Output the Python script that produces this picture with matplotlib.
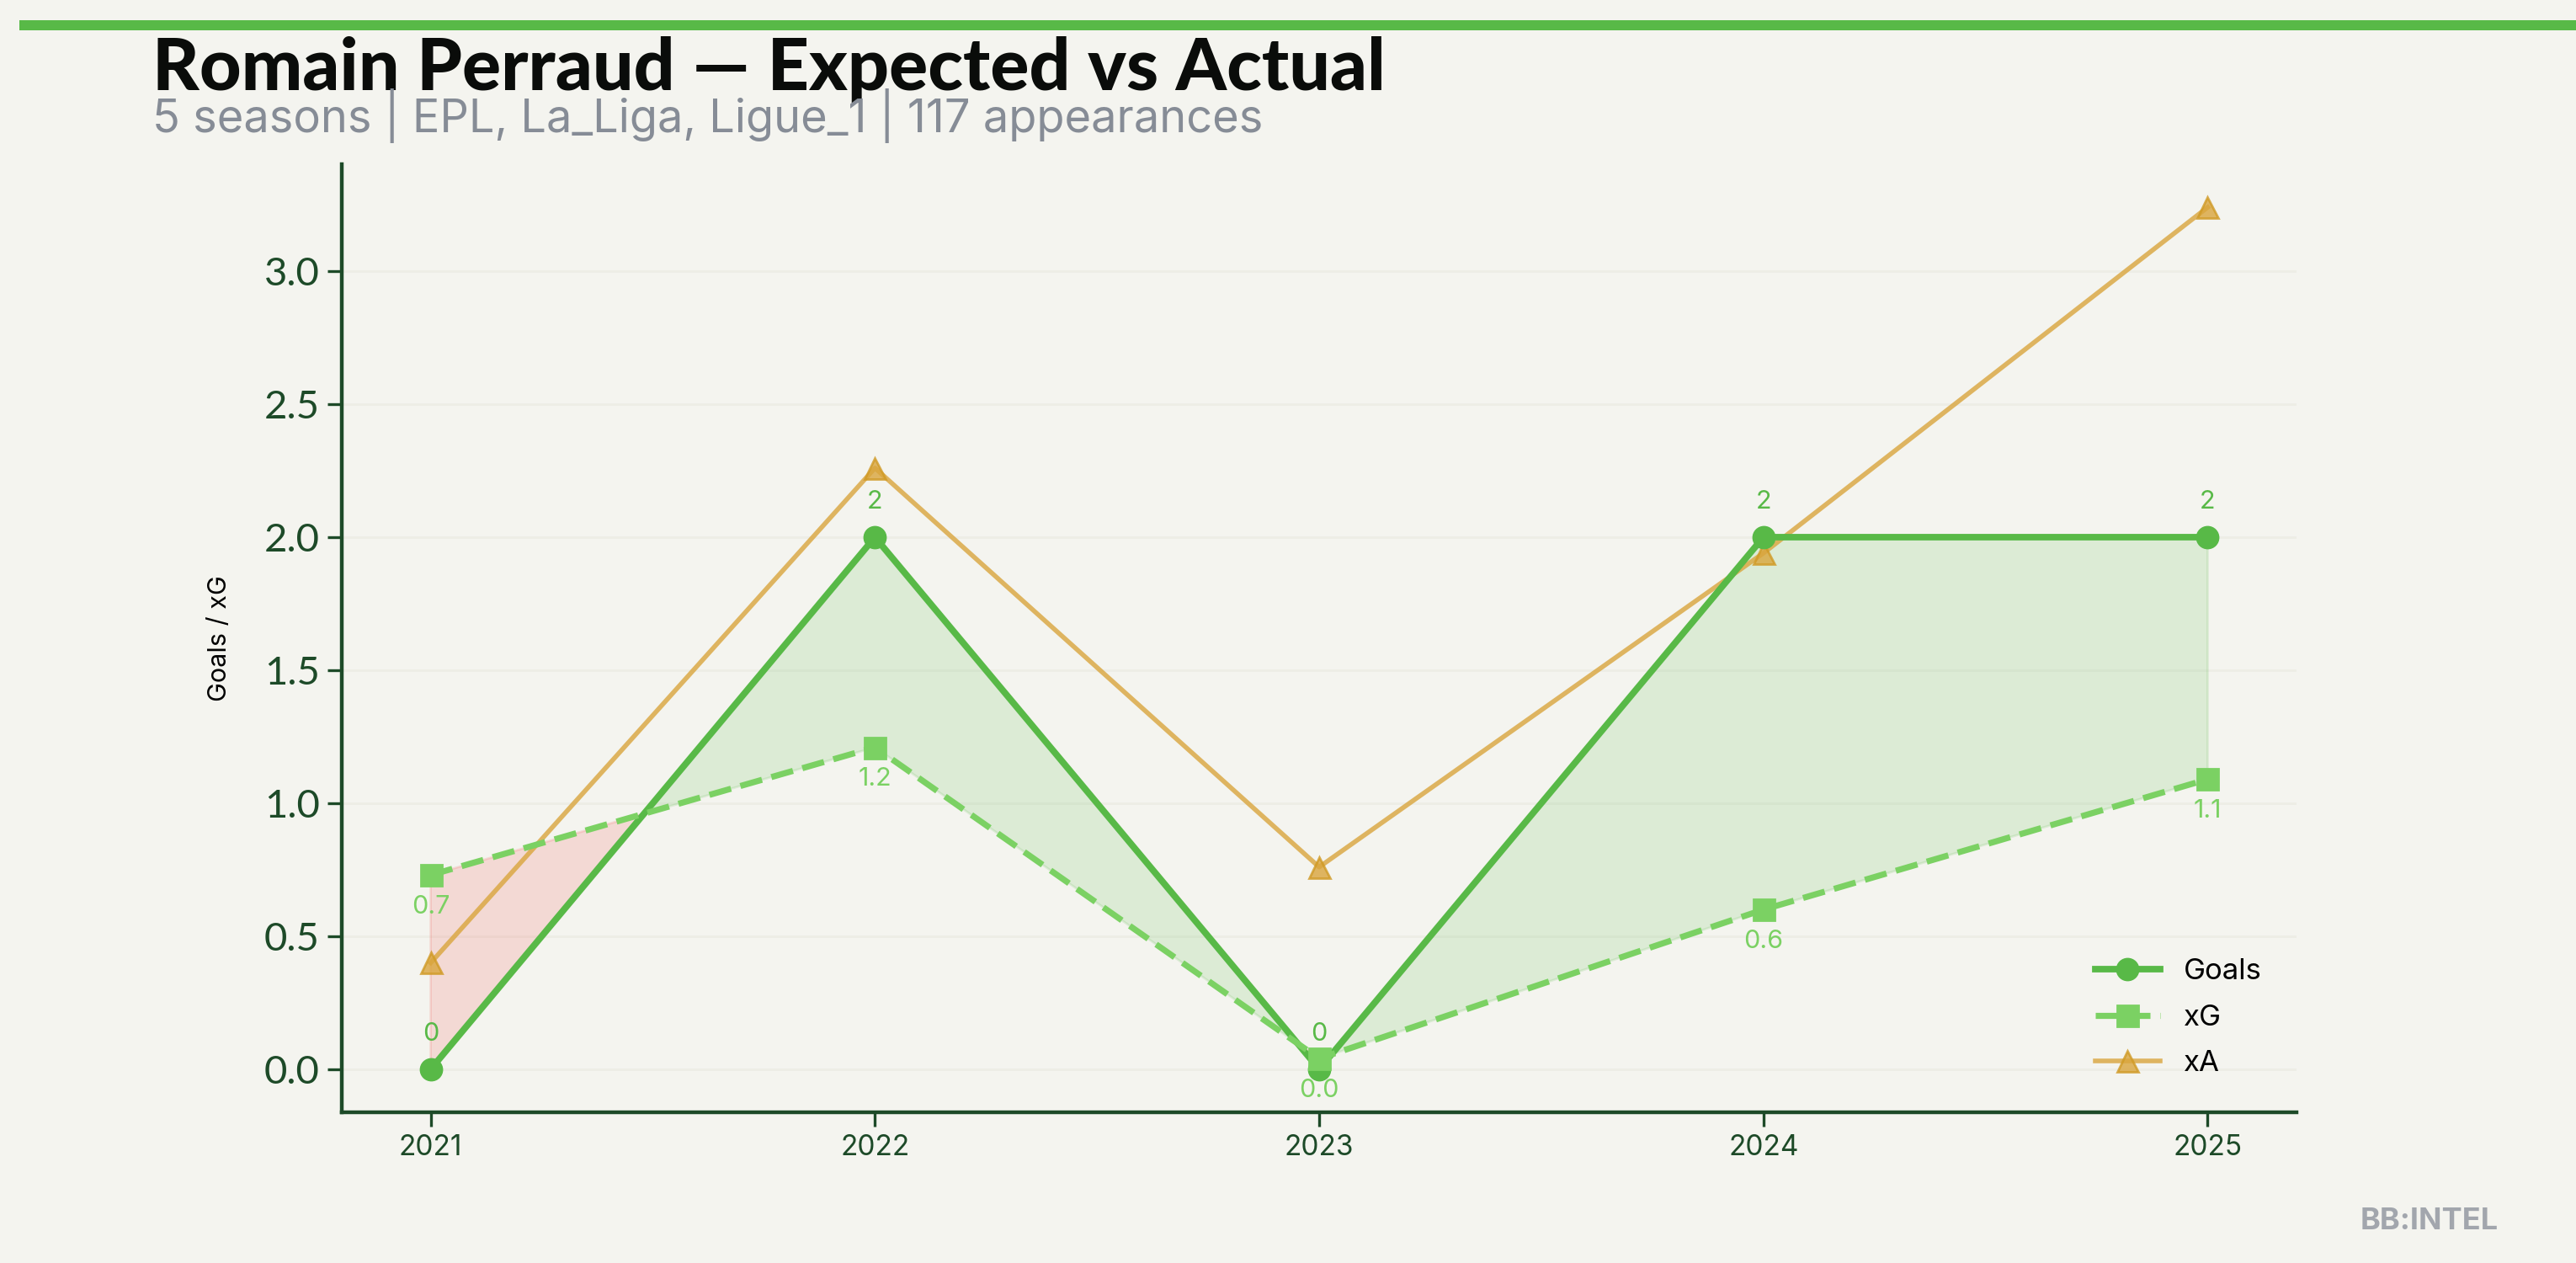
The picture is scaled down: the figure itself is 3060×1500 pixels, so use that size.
import numpy as np
import matplotlib
matplotlib.use('Agg')
import matplotlib.pyplot as plt

seasons = [2021, 2022, 2023, 2024, 2025]
goals = [0, 2, 0, 2, 2]
xg = [0.73, 1.21, 0.04, 0.60, 1.09]
xa = [0.40, 2.26, 0.76, 1.94, 3.24]

title = 'Romain Perraud \u2014 Expected vs Actual'
subtitle = '5 seasons | EPL, La_Liga, Ligue_1 | 117 appearances'

bg = '#f4f4ef'
c_goals = '#58b947'
c_xg = '#7bd163'
c_xa = '#d9a53c'
c_dark = '#1d4a28'

plt.rcParams['font.family'] = ['Inter', 'DejaVu Sans']

fig = plt.figure(figsize=(15.3, 7.5), dpi=200, facecolor=bg)
ax = fig.add_axes([0.1327, 0.1193, 0.7588, 0.7507])
ax.set_facecolor(bg)

x = np.array(seasons)
g = np.array(goals, dtype=float)
e = np.array(xg)

ax.fill_between(x, g, e, where=g >= e, interpolate=True, color=c_goals, alpha=0.15)
ax.fill_between(x, g, e, where=g < e, interpolate=True, color='#f0605a', alpha=0.18)

ax.plot(x, g, color=c_goals, lw=2.8, marker='o', ms=9, label='Goals', zorder=4)
ax.plot(x, e, color=c_xg, lw=2.6, ls='--', marker='s', ms=9, label='xG', zorder=4)
ax.plot(x, xa, color=c_xa, lw=2.0, marker='^', ms=9, alpha=0.8,
        mec='#d09a25', label='xA', zorder=3)

for xi, gi in zip(x, goals):
    ax.annotate(f'{gi}', (xi, gi), xytext=(0, 10), textcoords='offset points',
                ha='center', va='bottom', fontsize=11, color=c_goals)
for xi, ei in zip(x, xg):
    ax.annotate(f'{ei:.1f}', (xi, ei), xytext=(0, -8.5), textcoords='offset points',
                ha='center', va='top', fontsize=11, color=c_xg)

ax.set_xticks(seasons)
ax.set_xticklabels([str(s) for s in seasons])
ax.set_yticks(np.arange(0, 3.01, 0.5))
ax.set_yticklabels([f'{v:.1f}' for v in np.arange(0, 3.01, 0.5)], family=['Lato', 'DejaVu Sans'])
ax.tick_params(axis='y', labelsize=17, colors=c_dark, length=6, width=1.2)
ax.tick_params(axis='x', labelsize=12, colors=c_dark, length=6, width=1.2)
ax.set_ylabel('Goals / xG', fontsize=11, color='black', labelpad=14)

for s in ['top', 'right']:
    ax.spines[s].set_visible(False)
for s in ['left', 'bottom']:
    ax.spines[s].set_color(c_dark)
    ax.spines[s].set_linewidth(1.6)

ax.grid(axis='y', color='#ededE6', lw=1.0)
ax.set_axisbelow(True)

leg = ax.legend(loc='lower right', frameon=False, fontsize=12.5, borderaxespad=0.8,
                handlelength=2.2, labelspacing=0.65)

# top accent bar
bar = fig.add_axes([0.0075, 0.976, 0.9925, 0.008])
bar.set_facecolor(c_goals)
bar.set_xticks([])
bar.set_yticks([])
for s in bar.spines.values():
    s.set_visible(False)

fig.text(0.059, 0.929, title, fontsize=31, fontweight='black',
         family=['Lato', 'DejaVu Sans'], color='#0a0c0a', va='baseline')
fig.text(0.059, 0.895, subtitle, fontsize=19.5, color='#868c96', va='baseline')
fig.text(0.97, 0.027, 'BB:INTEL', fontsize=13, fontweight='bold',
         color='#a2a6ad', ha='right', va='baseline')

fig.savefig('out.png', dpi=200, facecolor=bg)
